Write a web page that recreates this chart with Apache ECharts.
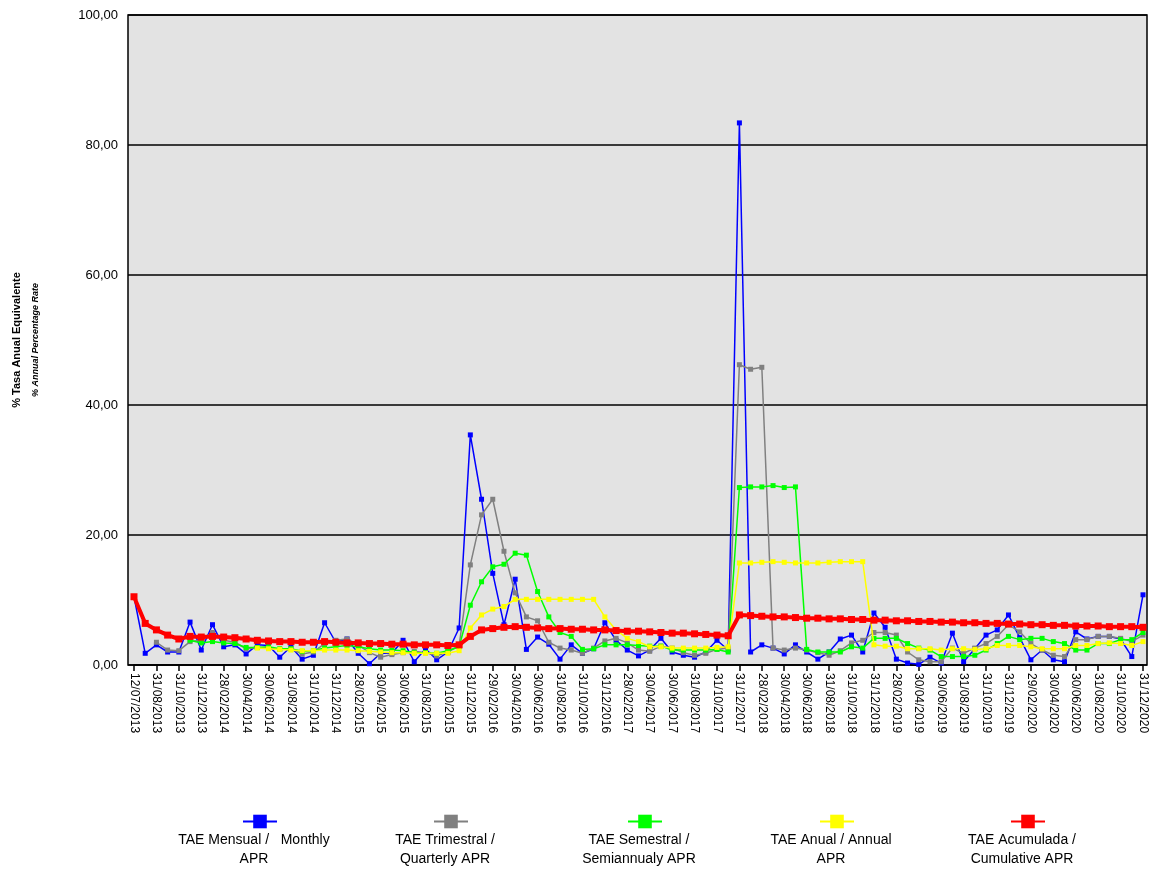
<!DOCTYPE html>
<html>
<head>
<meta charset="utf-8">
<script src="https://cdn.jsdelivr.net/npm/echarts@6/dist/echarts.min.js"></script>
<style>html,body{margin:0;padding:0;background:#fff}#c{width:1156px;height:870px}</style>
</head>
<body>
<div id="c"></div>
<script>
// categories: 12/07/2013 then every month end up to 31/12/2020
var dates = ['12/07/2013'];
for (var y = 2013; y <= 2020; y++) {
  for (var m = (y == 2013 ? 7 : 1); m <= 12; m++) {
    var d = new Date(y, m, 0).getDate();
    dates.push(d + '/' + (m < 10 ? '0' + m : m) + '/' + y);
  }
}

var yTicks = [0, 20, 40, 60, 80, 100];

var monthly = [10.5,1.8,3.1,2.0,2.0,6.6,2.3,6.2,2.8,3.1,1.7,3.1,3.0,1.2,2.8,0.9,1.5,6.5,3.5,4.0,1.8,0.2,1.8,1.8,3.8,0.5,2.5,0.8,2.0,5.7,
  35.4,25.5,14.1,6.2,13.2,2.4,4.3,3.2,0.9,3.1,1.8,2.5,6.5,3.8,2.3,1.4,2.3,4.1,2.0,1.5,1.2,2.0,3.8,2.3,
  83.4,2.0,3.1,2.6,1.7,3.1,2.0,0.9,2.0,4.0,4.6,2.0,8.0,5.8,0.9,0.3,0.1,1.2,0.3,4.9,0.5,2.5,4.6,5.4,7.7,4.2,0.8,2.3,0.8,0.5,5.1,4.0,4.4,4.4,4.0,1.3,10.8];

var quarterly = [null,null,3.5,2.3,2.2,3.6,3.8,5.0,3.8,3.5,2.5,2.7,2.6,2.4,2.5,1.7,2.0,3.3,3.8,4.0,3.1,1.9,1.2,1.6,1.9,2.1,1.9,1.4,2.0,3.0,
  15.4,23.1,25.5,17.5,11.1,7.4,6.8,3.5,2.6,2.3,1.8,2.6,3.7,4.1,3.4,2.3,2.1,2.9,2.6,1.9,1.5,1.8,2.4,2.6,
  46.2,45.5,45.8,2.6,2.3,2.6,2.3,1.9,1.5,2.2,3.4,3.8,5.0,5.0,4.6,2.0,0.8,0.5,0.5,2.6,1.8,2.6,3.3,4.4,6.2,5.1,3.3,2.3,1.5,1.3,3.9,3.9,4.4,4.4,4.1,3.6,4.6];

var semiannual = [null,null,null,null,null,3.8,3.4,3.6,3.4,3.3,2.7,2.7,2.8,2.5,2.5,2.1,2.2,2.6,2.8,3.0,2.8,2.5,2.3,2.3,2.2,1.9,1.9,1.8,2.2,2.8,
  9.2,12.8,15.1,15.5,17.2,16.9,11.3,7.4,5.0,4.4,2.4,2.5,3.1,3.1,3.1,3.0,2.9,2.9,2.3,2.3,2.3,2.3,2.4,2.0,
  27.3,27.4,27.4,27.6,27.3,27.4,2.4,2.0,2.0,2.0,2.8,2.6,4.1,4.1,4.1,3.3,2.6,2.3,1.3,1.3,1.3,1.5,2.3,3.3,4.4,3.9,4.1,4.1,3.6,3.3,2.3,2.3,3.3,3.3,3.9,3.9,5.0];

var annual = [null,null,null,null,null,null,null,null,null,null,null,2.6,2.5,2.4,2.3,2.2,2.2,2.3,2.3,2.3,2.2,2.1,2.0,1.9,1.9,1.8,1.8,1.8,1.8,2.2,
  5.7,7.7,8.6,9.0,10.1,10.1,10.1,10.1,10.1,10.1,10.1,10.1,7.4,5.4,4.1,3.6,2.8,2.8,2.6,2.6,2.6,2.6,2.7,2.8,
  15.7,15.7,15.8,15.9,15.8,15.7,15.7,15.7,15.8,15.9,15.9,15.9,3.1,2.9,2.9,2.5,2.5,2.5,2.3,2.5,2.5,2.4,2.5,3.0,3.0,3.0,2.8,2.5,2.5,2.5,3.0,3.0,3.3,3.4,3.3,3.0,3.6];

var cumulative = [10.5,6.4,5.4,4.6,4.0,4.4,4.3,4.4,4.3,4.2,4.0,3.8,3.7,3.6,3.6,3.5,3.5,3.6,3.5,3.4,3.4,3.3,3.3,3.2,3.2,3.1,3.1,3.1,3.0,3.1,
  4.4,5.4,5.6,5.8,5.9,5.8,5.7,5.6,5.6,5.5,5.5,5.4,5.4,5.3,5.2,5.2,5.1,5.0,4.9,4.9,4.8,4.7,4.6,4.5,
  7.7,7.6,7.5,7.4,7.4,7.3,7.2,7.2,7.1,7.1,7.0,7.0,6.9,6.9,6.8,6.8,6.7,6.7,6.6,6.6,6.5,6.5,6.4,6.4,6.3,6.3,6.2,6.2,6.1,6.1,6.0,6.0,6.0,5.9,5.9,5.9,5.8,5.8,5.8,5.8,5.8];

var names = ['TAE Mensual /   Monthly\nAPR', 'TAE Trimestral /\nQuarterly APR', 'TAE Semestral /\nSemiannualy APR', 'TAE Anual / Annual\nAPR', 'TAE Acumulada /\nCumulative APR'];
var colors = ['#0000ff', '#808080', '#00ff00', '#ffff00', '#ff0000'];
var values = [monthly, quarterly, semiannual, annual, cumulative];
var legendX = [254, 445, 639, 831, 1022];

var chart = echarts.init(document.getElementById('c'));

var series = values.map(function (v, i) {
  var last = i == 4;
  return {
    name: names[i], type: 'line', xAxisIndex: 1, yAxisIndex: 1, data: v,
    symbol: 'rect', symbolSize: last ? 7 : 5, showSymbol: true,
    lineStyle: {color: colors[i], width: last ? 4 : 1.5},
    itemStyle: {color: colors[i]}, z: 2 + i, animation: false
  };
});

var legends = names.map(function (n, i) {
  return {
    data: [n], left: legendX[i] - 17, top: 808, itemWidth: 34, itemHeight: 17,
    formatter: function () { return ''; }, selectedMode: false
  };
});

var texts = names.map(function (n, i) {
  return {
    type: 'text', x: legendX[i], y: 831,
    style: {text: n, align: 'center', font: '14px "Liberation Sans", Arial', fill: '#000', lineHeight: 19},
    z: 10
  };
});

var option = {
  animation: false,
  grid: [
    {left: 128, right: 9, top: 15, bottom: 205, show: true, backgroundColor: '#e3e3e3', borderColor: '#000', borderWidth: 1.5},
    {left: 134, right: 13, top: 15, bottom: 205}
  ],
  legend: legends,
  xAxis: [
    {gridIndex: 0, type: 'value', show: false, min: 0, max: 1},
    {gridIndex: 1, type: 'category', data: dates, boundaryGap: false,
      axisLine: {lineStyle: {color: '#000', width: 1.5}},
      axisTick: {interval: 1, length: 6, lineStyle: {color: '#000', width: 1.5}},
      axisLabel: {interval: 1, rotate: -90, color: '#000', fontSize: 12, fontFamily: '"Liberation Sans", Arial', margin: 8}
    }
  ],
  yAxis: [
    {gridIndex: 0, type: 'value', min: 0, max: 100, interval: 20,
      axisLine: {show: false}, axisTick: {show: false},
      splitLine: {lineStyle: {color: '#000', width: 1.5}},
      axisLabel: {color: '#000', fontSize: 13, fontFamily: '"Liberation Sans", Arial', margin: 10,
        formatter: function (v) { return yTicks.indexOf(v) >= 0 ? v.toFixed(2).replace('.', ',') : ''; }}
    },
    {gridIndex: 1, type: 'value', min: 0, max: 100, interval: 20, show: false}
  ],
  series: series,
  graphic: texts.concat([
    {type: 'text', x: 17, y: 340, rotation: Math.PI / 2, style: {text: '% Tasa Anual Equivalente', align: 'center', verticalAlign: 'middle', font: 'bold 11px "Liberation Sans", Arial', fill: '#000'}},
    {type: 'text', x: 36, y: 340, rotation: Math.PI / 2, style: {text: '% Annual Percentage Rate', align: 'center', verticalAlign: 'middle', font: 'italic bold 9px "Liberation Sans", Arial', fill: '#000'}}
  ])
};
chart.setOption(option);
</script>
</body>
</html>
